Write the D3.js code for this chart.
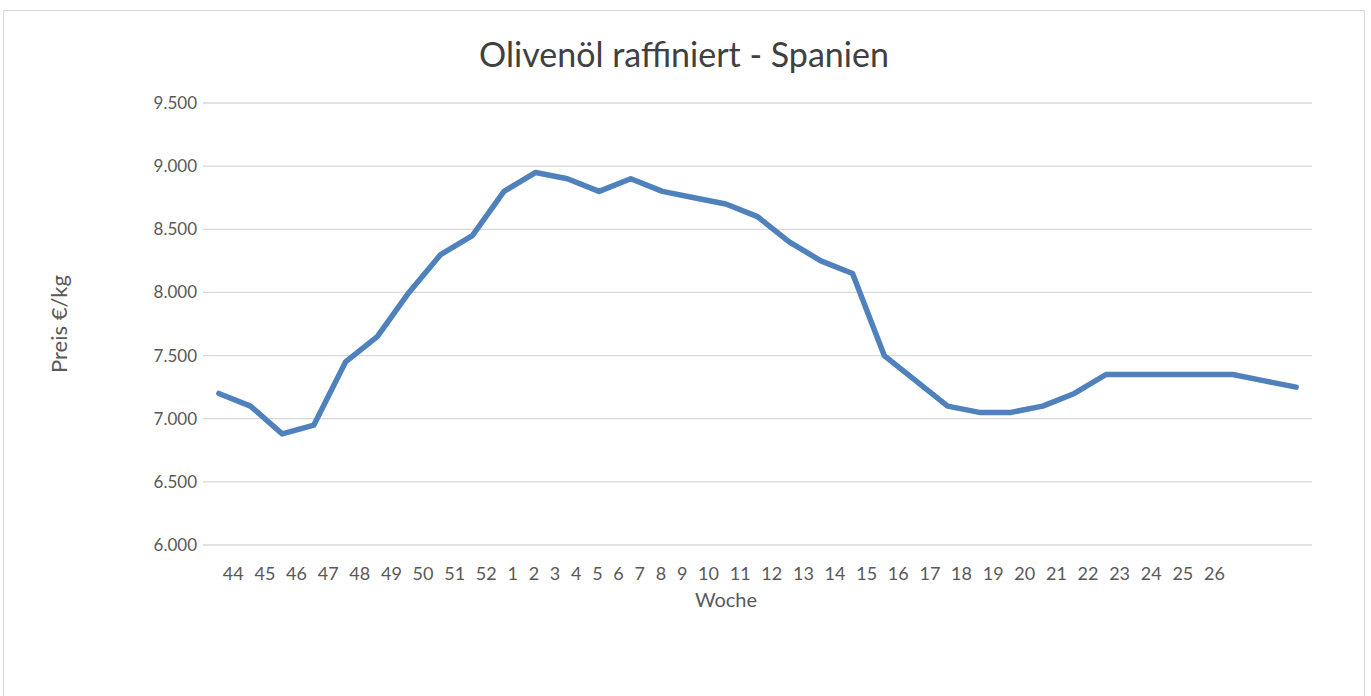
<!DOCTYPE html>
<html>
<head>
<meta charset="utf-8">
<script src="https://cdn.jsdelivr.net/npm/d3@7"></script>
<style>
  body { margin: 0; background: #fff; }
  text { font-family: Lato, "Open Sans", sans-serif; fill: #595959; }
</style>
</head>
<body>
<div id="chart"></div>
<script>
const weeks = ['44', '45', '46', '47', '48', '49', '50', '51', '52', '1', '2', '3', '4', '5', '6', '7', '8', '9',
               '10', '11', '12', '13', '14', '15', '16', '17', '18', '19', '20', '21', '22', '23', '24', '25', '26'];
const prices = [7.20, 7.10, 6.88, 6.95, 7.45, 7.65, 8.00, 8.30, 8.45, 8.80, 8.95, 8.90, 8.80, 8.90, 8.80, 8.75,
                8.70, 8.60, 8.40, 8.25, 8.15, 7.50, 7.30, 7.10, 7.05, 7.05, 7.10, 7.20, 7.35, 7.35, 7.35, 7.35,
                7.35, 7.30, 7.25];
const yTicks = [6.0, 6.5, 7.0, 7.5, 8.0, 8.5, 9.0, 9.5];

const width = 1371,
      height = 696,
      margin = { top: 103, right: 59, bottom: 151, left: 203 };

const fmt = d3.format(',.3f');
const fmtDe = v => fmt(v).replace('.', ',').replace(',', '.');

const svg = d3.select('#chart').append('svg')
    .attr('width', width)
    .attr('height', height);

// chart frame
svg.append('rect')
    .attr('x', 3.5).attr('y', 10.5)
    .attr('width', 1361).attr('height', 700)
    .attr('fill', '#fff')
    .attr('stroke', '#d9d9d9');

const x = d3.scalePoint()
    .domain(d3.range(prices.length))
    .range([margin.left, width - margin.right])
    .padding(0.5);

const y = d3.scaleLinear()
    .domain([6, 9.5])
    .range([height - margin.bottom, margin.top]);

// gridlines
svg.append('g')
    .selectAll('line')
    .data(yTicks).enter().append('line')
    .attr('x1', margin.left).attr('x2', width - margin.right)
    .attr('y1', d => y(d)).attr('y2', d => y(d))
    .attr('stroke', '#d9d9d9')
    .attr('stroke-width', 1.3);

// y tick labels
svg.append('g')
    .selectAll('text')
    .data(yTicks).enter().append('text')
    .attr('x', margin.left - 6)
    .attr('y', d => y(d))
    .attr('dy', '0.35em')
    .attr('text-anchor', 'end')
    .style('font-size', '17px')
    .text(d => fmtDe(d));

// line
svg.append('path')
    .datum(prices)
    .attr('fill', 'none')
    .attr('stroke', '#4f81bd')
    .attr('stroke-width', 5.5)
    .attr('stroke-linejoin', 'round')
    .attr('stroke-linecap', 'round')
    .attr('d', d3.line().x((d, i) => x(i)).y(d => y(d)));

// week labels, laid out one after another as in the original
const labelRow = svg.append('g');
const labels = labelRow.selectAll('text')
    .data(weeks).enter().append('text')
    .attr('y', height - margin.bottom + 35)
    .style('font-size', '18px')
    .text(d => d);

const widths = labels.nodes().map(n => n.getComputedTextLength());
const span = (x(31) + x(32)) / 2 + 8 - (x(0) + 4);
const gap = (span - d3.sum(widths)) / (weeks.length - 1);
let cursor = x(0) + 4;
labels.each(function (d, i) {
    d3.select(this).attr('x', cursor);
    cursor += widths[i] + gap;
});

// titles
svg.append('text')
    .attr('x', 684).attr('y', 67)
    .attr('text-anchor', 'middle')
    .style('font-size', '34px')
    .style('fill', '#404040')
    .text('Olivenöl raffiniert - Spanien');

svg.append('text')
    .attr('transform', `translate(67,${(margin.top + height - margin.bottom) / 2}) rotate(-90)`)
    .attr('text-anchor', 'middle')
    .style('font-size', '22px')
    .text('Preis €/kg');

svg.append('text')
    .attr('x', 726).attr('y', height - margin.bottom + 62)
    .attr('text-anchor', 'middle')
    .style('font-size', '20px')
    .text('Woche');
</script>
</body>
</html>
